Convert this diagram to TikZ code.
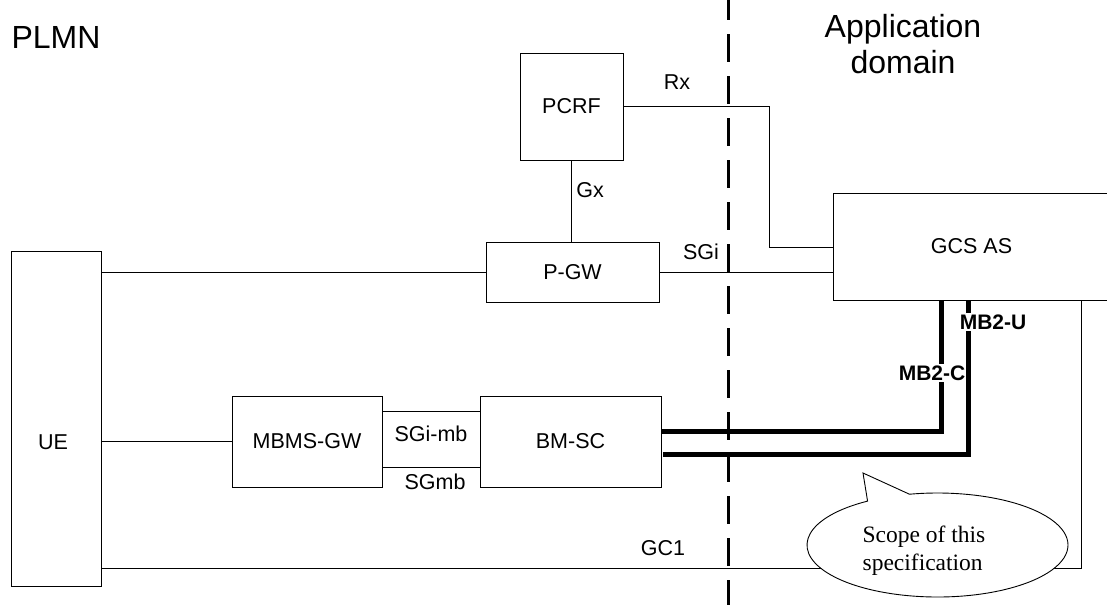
\documentclass[tikz,border=0pt]{standalone}
\usepackage{fontspec}
\setmainfont{Liberation Sans}
\newfontfamily\scopefont{Liberation Serif}
\usetikzlibrary{shapes.callouts}
\tikzset{
  box/.style={rectangle,draw,line width=0.9pt,align=center,inner sep=0pt},
  line/.style={line width=0.9pt},
  bearer/.style={line width=5pt},
  mblabel/.style={fill=white,inner sep=2pt,font=\fontsize{21}{25}\selectfont\bfseries},
  areaname/.style={font=\fontsize{32}{36}\selectfont,align=center},
  scopebubble/.style={ellipse callout,draw,line width=0.9pt,fill=white,inner sep=0pt,callout pointer arc=20},
  scopetext/.style={align=left,inner sep=0pt,font=\scopefont\fontsize{23.5}{28}\selectfont}
}

\begin{document}
\begin{tikzpicture}[x=1pt,y=-1pt,font=\fontsize{21.5}{25}\selectfont]
\useasboundingbox (0,0) rectangle (1107,605);
\node[areaname] (plmn) at (56,37) {PLMN};
\node[areaname] (appdomain) at (903,44) {Application\\domain};
% border between PLMN and application domain
\coordinate (septop) at (728,-8);
\coordinate (sepbot) at (728,605);
\draw[line width=3pt,dash pattern=on 28pt off 14pt] (septop) -- (sepbot);
% network elements
\node[box,minimum width=103,minimum height=107] (pcrf) at (571.5,106.5) {PCRF};
\node[box,minimum width=173,minimum height=60] (pgw) at (572.5,272) {P-GW};
\node[box,minimum width=90,minimum height=335] (ue) at (56,418.5) {};
\node (uetext) at (53,442) {UE};
\node[box,minimum width=150,minimum height=91] (mbmsgw) at (307,441.5) {MBMS-GW};
\node[box,minimum width=181,minimum height=91] (bmsc) at (570.5,441.5) {BM-SC};
\node[box,minimum width=277,minimum height=107] (gcsas) at (971.5,246.5) {GCS AS};
% reference points
\coordinate (rxbend) at (769,247);
\coordinate (gcbend) at (1081,568);
\coordinate (mbcbend) at (941,431);
\coordinate (mbubend) at (968,454);
% interfaces
\draw[line] (pcrf.east) -| (rxbend) -- (rxbend -| gcsas.west);
\draw[line] (pcrf.south) -- (pcrf.south |- pgw.north);
\draw[line] (pgw.east) -- (pgw.east -| gcsas.west);
\draw[line] (ue.east |- pgw.west) -- (pgw.west);
\draw[line] (ue.east |- mbmsgw.west) -- (mbmsgw.west);
\draw[line] (mbmsgw.east |- 0,411) -- (bmsc.west |- 0,411);
\draw[line] (mbmsgw.east |- 0,467) -- (bmsc.west |- 0,467);
\draw[line] (ue.east |- gcbend) -- (gcbend) -- (gcbend |- gcsas.south);
\draw[bearer] (bmsc.east |- mbcbend) -- (mbcbend) -- (mbcbend |- gcsas.south);
\node[mblabel] (mb2c) at (932,373) {MB2-C};
\draw[bearer] ([xshift=2pt]bmsc.east |- mbubend) -- (mbubend) -- (mbubend |- gcsas.south);
\node[mblabel] (mb2u) at (993,322) {MB2-U};
% interface names
\node (rx) at (677,82) {Rx};
\node (gx) at (590,190) {Gx};
\node (sgi) at (701,252) {SGi};
\node (sgimb) at (431,434) {SGi-mb};
\node (sgmb) at (435,482) {SGmb};
\node (gc1) at (663,548) {GC1};
% scope note
\coordinate (scopetip) at (863,473);
\node[scopebubble,minimum width=261,minimum height=104,callout absolute pointer={(scopetip)}]
  (scope) at (937.5,545) {};
\node[scopetext] (scopelabel) at (924,550.5) {Scope of this\\specification};
\end{tikzpicture}
\end{document}
